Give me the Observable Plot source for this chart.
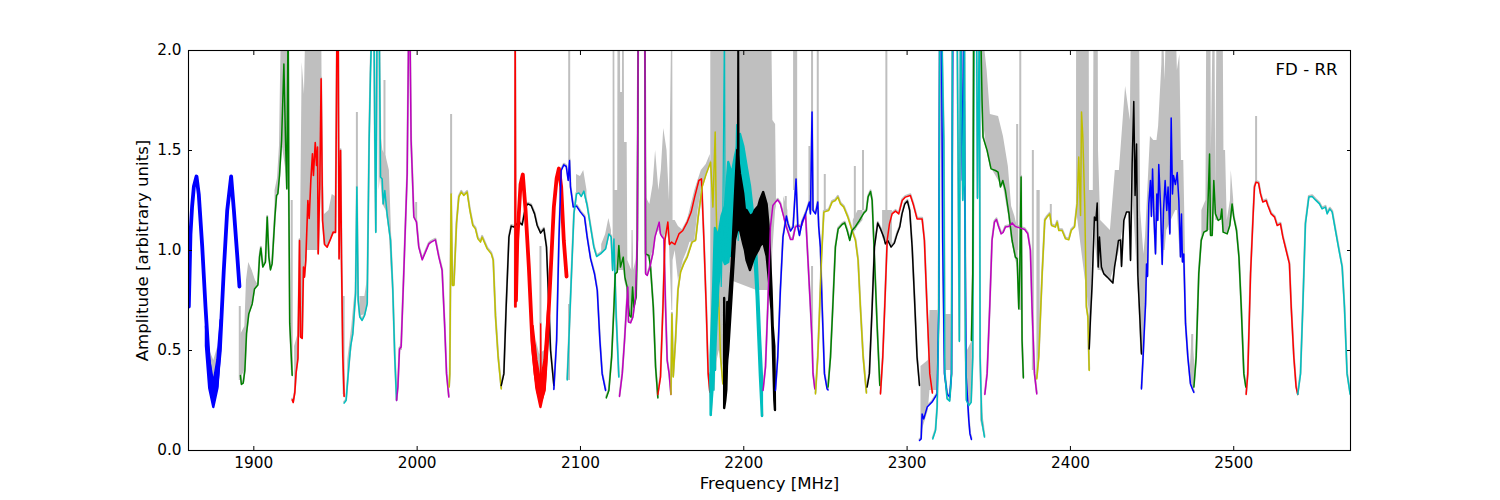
<!DOCTYPE html>
<html><head><meta charset="utf-8">
<script src="https://cdn.jsdelivr.net/npm/d3@7"></script>
<script src="https://cdn.jsdelivr.net/npm/@observablehq/plot@0.6"></script>
<style>html,body{margin:0;background:#fff}svg{display:block}</style>
</head><body><div id="chart"></div>
<script>
const xTicks=[1900,2000,2100,2200,2300,2400,2500];
const yTicks=[0,0.5,1,1.5,2];
const blue1=[[1860.2,.72],[1861.2,1.08],[1862.2,1.22],[1863.3,1.32],[1864.9,1.37],[1866.3,1.28],[1868.4,1.02],[1870.4,.72],[1872.4,.45],[1873.9,.33],[1875.5,.27],[1877.1,.32],[1879.2,.5],[1881.6,.9],[1883.7,1.2],[1886.1,1.37],[1887.8,1.2],[1889.8,.98],[1891.2,.82]];
const blue1Dip=[[1871,.52,.62],[1873,.31,.45],[1875.5,.215,.33],[1878,.31,.45],[1880,.55,.65]];
const green1=[[1891.8,.375],[1892.4,.33],[1893.5,.337],[1894.5,.4],[1895.5,.583],[1896.9,.683],[1899,.733],[1900.4,.808],[1902.5,.828],[1903.5,.967],[1904.3,1.013],[1905.5,.917],[1907.1,.942],[1908.2,1.167],[1909.2,.967],[1910.2,.903],[1911.2,.933],[1912.9,1.167],[1913.9,1.275],[1914.7,1.283],[1915.7,1.375],[1917,1.55],[1918.4,1.933],[1919.4,1.55],[1920.2,1.308],[1921,2.2],[1921.4,1.3],[1922,.633],[1923.5,.375]];
const red1=[[1923.5,.253],[1924.1,.24],[1925.1,.29],[1925.9,.39],[1927,.46],[1928,1.05],[1928.6,.567],[1929.6,.56],[1930.4,.917],[1931,.867],[1931.8,.95],[1933.1,1.25],[1933.9,1.16],[1934.9,1.35],[1935.9,1.483],[1936.5,1.375],[1937.6,1.54],[1938.4,1.425],[1939,1.517],[1939.4,.983],[1940.4,1.33],[1941.2,1.858],[1942.1,1.15],[1943.3,1.03],[1944.9,1.017],[1947,1.058],[1948.6,1.092],[1950,1.09],[1951,2.2],[1951.6,2.2],[1952.2,.958],[1953.1,1.5],[1953.7,.95],[1954.5,.467],[1955.3,.27]];
const cyan1=[[1955.3,.237],[1956.5,.25],[1957.8,.383],[1959.2,.517],[1960.6,.583],[1962.3,.783],[1963.1,1.317],[1963.9,.75],[1964.9,.667],[1966.3,.65],[1967.8,.675],[1969.4,.733],[1970.6,1.55],[1971.4,1.883],[1972.5,2.2],[1973.5,2.2],[1974.1,1.55],[1974.7,1.09],[1975.5,2.2],[1976.7,2.2],[1977.6,1.367],[1978.6,1.358],[1979.2,1.233],[1980.2,1.3],[1981.6,1.183],[1983.7,1.05],[1985.1,.8],[1986.3,.467],[1987.4,.25]];
const magenta1=[[1987.4,.25],[1988.2,.317],[1989.2,.508],[1990.2,.517],[1991.8,.883],[1993.9,1.383],[1994.9,2.2],[1995.5,2.2],[1996.3,1.55],[1998,1.167],[1999.6,1.142],[2001,1.017],[2003.1,.953],[2005.1,.992],[2007.2,1.033],[2008.6,1.042],[2011.2,1.053],[2013.3,.967],[2015.3,.9],[2016.8,.633],[2018,.383],[2019.4,.267]];
const yellow1=[[2019.6,.317],[2020,.383],[2020.8,1.283],[2021.6,.825],[2022.5,.825],[2024.1,1.133],[2025.5,1.267],[2027,1.292],[2028.6,1.275],[2030.6,1.292],[2032.3,1.2],[2034.1,1.125],[2035.7,1.108],[2037.2,1.058],[2038.8,1.042],[2039.8,1.067],[2042.9,1.008],[2045.4,.983],[2046.6,.95],[2048,.667],[2049.6,.467],[2051.5,.308]];
const black1=[[2051.5,.325],[2053.1,.383],[2054.5,.717],[2056.2,1.067],[2057.6,1.122],[2059.2,1.117],[2062.3,1.142],[2064.3,1.128],[2066.4,1.217],[2067.8,1.233],[2069.8,1.225],[2071.9,1.183],[2073.5,1.125],[2075.6,1.087],[2077.6,1.108],[2079.2,1.017],[2080.7,.717],[2081.7,.5],[2083.7,.325]];
const red2Spike=[[2059.8,.717],[2060,2.2],[2060.5,.717]];
const red2Notch=[[2075.6,.3],[2075.6,.633],[2075.9,.3]];
const red2=[[2060.5,.75],[2061.3,1.05],[2063.3,1.33],[2064.7,1.38],[2066.4,1.2],[2068.4,.917],[2070.5,.55],[2072.5,.383],[2074.5,.283],[2076,.26],[2077.6,.3],[2079.6,.55],[2081.7,.883],[2083.7,1.217],[2085.4,1.36],[2086.8,1.41],[2088.2,1.317],[2089.8,1.05],[2091.5,.87]];
const red2Dip=[[2071,.5,.62],[2073.3,.31,.45],[2075.8,.215,.33],[2078.3,.31,.45],[2080.5,.6,.7]];
const blue2=[[2083.7,.305],[2085.4,.55],[2086.8,1.05],[2088.2,1.4],[2089.8,1.428],[2091.3,1.42],[2092.5,1.35],[2093.3,1.45],[2093.9,1.317],[2095.6,1.217],[2097.6,1.222],[2100,1.192],[2102.5,1.167],[2104.1,1.067],[2106.2,.958],[2108.6,.883],[2110.3,.8],[2111.9,.55],[2113.3,.383],[2115.4,.3]];
const cyan2=[[2091.9,.353],[2092.9,.55],[2094.5,.883],[2096,1.183],[2097.6,1.283],[2099,1.288],[2100.5,1.27],[2102.1,1.297],[2104.1,1.225],[2106.2,1.117],[2108.2,1.017],[2109.9,.97],[2112.3,.983],[2115.4,1.008],[2117.4,1.083],[2118.8,1.067],[2119.7,.9],[2120.5,1.058],[2121.1,.883],[2121.9,.667],[2123.5,.367]];
const green2=[[2115.8,.263],[2117.4,.3],[2119.1,.467],[2120.5,.717],[2121.3,.883],[2122.5,.892],[2123.5,1.025],[2124.5,.917],[2126.2,.967],[2127.2,.867],[2128.6,.817],[2129.2,.733],[2130,.675],[2131,.667],[2131.9,.817],[2132.7,.717],[2134.1,.767],[2134.8,1.05],[2135.4,2.2],[2139.4,2.2],[2139.9,.983],[2141.9,.975],[2142.9,.917],[2144.6,.717],[2146,.417],[2147.4,.263]];
const magenta2=[[2123.9,.27],[2125.6,.383],[2127,.55],[2128.2,.717],[2129,.817],[2129.4,.642],[2130.7,.638],[2132.1,.667],[2133.7,.767],[2134.8,1.05],[2135.4,2.2],[2139.4,2.2],[2139.9,.883],[2140.9,.875],[2142.5,.917],[2144.3,.983],[2145.6,1.067],[2147,1.108],[2148.2,1.142],[2149,1.083],[2150.1,1.067],[2151.1,1.058],[2152.1,.717],[2153.1,.45],[2154.3,.383],[2155.4,.28]];
const red3=[[2147.4,.28],[2149,.367],[2150.5,.717],[2151.7,1.05],[2153.5,1.142],[2154.5,1.03],[2155.8,1.042],[2157.8,1.03],[2160.3,1.083],[2162.7,1.1],[2165.4,1.142],[2167.8,1.192],[2169.9,1.267],[2172.5,1.35],[2174.1,1.358],[2175.6,1.05],[2177,.717],[2178.2,.383],[2179.2,.292]];
const yellow2=[[2155.4,.28],[2156,.683],[2156.8,.367],[2158.2,.55],[2159.7,.8],[2161.3,.892],[2163.3,.933],[2165.4,.967],[2168.4,1.042],[2170.5,1.05],[2172.1,1.167],[2174.5,1.317],[2177,1.383],[2179.7,1.442],[2181.1,1.217],[2182.5,1.592],[2183.1,1.217],[2184.1,.883],[2185.8,.467],[2187.2,.333]];
const cyan3=[[2179.2,.38],[2180,.175],[2181.1,.467],[2181.7,.3],[2182.3,.55],[2182.7,.4],[2183.1,1.05],[2184.1,.72],[2185.4,1.13],[2186.2,.82],[2187.2,1.17],[2188.2,2.2],[2188.6,.93],[2189.9,1.22],[2190.6,.95],[2191.5,1.3],[2191.9,.97],[2192.3,1.38],[2193.1,.98],[2194,1.35],[2194.5,1.03],[2195,1.4],[2195.6,1.63],[2196.6,1.05],[2197.4,1.45],[2198,1.52],[2198.5,1.1],[2199,1.5],[2199.5,1.2],[2200,1.51],[2200.5,1.15],[2201.1,1.45],[2201.8,1.15],[2202.5,1.38],[2203,1.1],[2203.5,1.3],[2204.1,1.1],[2205,1.2],[2206.2,1.05],[2206.8,1.15],[2207.2,.92],[2208.6,.72],[2210.3,.38],[2211.5,.17]];
const cyanBand=[[2180,.175,.47],[2181.6,.35,.82],[2182.6,.47,1.11],[2184.7,.82,1.07],[2186.7,.97,1.17],[2188.8,.93,1.22],[2190.8,.94,1.44],[2192.9,1.1,1.38],[2194.9,1.2,1.47],[2198,1.3,1.58],[2200,1.2,1.52],[2202,1.2,1.42],[2204.1,1.15,1.32],[2207.1,.93,1.1],[2208.2,.77,.95],[2209.2,.57,.77],[2210.2,.37,.57],[2211.4,.17,.37]];
const blackBand=[[2188.3,.21,.76],[2189,.25,.42],[2189.6,.3,.5],[2190,.42,.6],[2190.2,.45,.74],[2190.8,.5,.68],[2192.9,.78,.93],[2194.9,1.05,1.27],[2196.3,1.1,1.5],[2198,1.1,1.38],[2200,1.03,1.28],[2201,1,1.2],[2202,.95,1.2],[2204.1,.9,1.17],[2206.1,.95,1.18],[2207.1,.97,1.2],[2209.2,1,1.22],[2210.2,1.02,1.25],[2212.2,1.04,1.29],[2214.3,.97,1.23],[2215.7,.85,1.1],[2217.3,.7,.8],[2218,.55,.62],[2219,.25,.52],[2219.4,.2,.21]];
const black2Spike=[[2196.2,1.2],[2196.6,2.2],[2197,1.2]];
const magenta3=[[2211.8,.3],[2213.3,.417],[2214.7,.717],[2216.3,1.117],[2217.8,1.225],[2219.4,1.242],[2220.8,1.253],[2222.4,1.233],[2224,1.183],[2226.1,1.117],[2228.6,1.055],[2230,1.055],[2231.6,1.117],[2233.1,1.125],[2235.1,1.117],[2237.8,1.183],[2239.2,.967],[2240.8,.717],[2241.8,.55],[2242.4,.383],[2243.5,.308]];
const blue3=[[2219.4,.3],[2220.8,.467],[2222.4,.8],[2224,1.067],[2226.1,1.172],[2227.1,1.133],[2228.6,1.097],[2230.2,1.117],[2232,1.358],[2233.1,1.117],[2234.1,1.075],[2235.7,1.142],[2237.8,1.183],[2240.2,1.242],[2240.8,1.183],[2241.8,1.692],[2242.4,1.2],[2243.9,1.183],[2245.3,1.242],[2245.9,1.117],[2246.9,1.017],[2248,.717],[2249.4,.383],[2251,.308],[2251.6,.303]];
const yellow3=[[2243.9,.283],[2245.3,.467],[2246.5,.717],[2247.6,.967],[2249,1.192],[2252,1.2],[2254.1,1.242],[2256.1,1.25],[2257.6,1.267],[2259.2,1.233],[2261.2,1.217],[2263.7,1.167],[2266.3,1.1],[2268.4,1.05],[2270,.95],[2271.4,.717],[2273.1,.467],[2275.1,.287]];
const green3=[[2251.6,.317],[2253.1,.467],[2254.5,.717],[2256.1,1.017],[2257.8,1.108],[2260.2,1.13],[2261.8,1.138],[2263.3,1.1],[2264.9,1.05],[2266.3,1.1],[2268.4,1.12],[2270.8,1.15],[2273.5,1.187],[2275.1,1.2],[2276.1,1.267],[2277.6,1.295],[2278.6,1.25],[2280,.967],[2281.6,.633],[2283.3,.325]];
const black3=[[2275.5,.317],[2276.9,.383],[2278.6,.717],[2280,1.017],[2282,1.137],[2283.7,1.108],[2285.7,1.067],[2286.7,1.033],[2288.2,1.05],[2290.2,1.017],[2292.2,1.037],[2293.9,1.083],[2295.5,1.117],[2296.9,1.183],[2298.6,1.233],[2300.2,1.247],[2301.6,1.2],[2303.1,1.017],[2304.5,.767],[2306.1,.467],[2307.6,.325]];
const red4=[[2283.7,.283],[2285.1,.467],[2286.3,.717],[2287.8,1.05],[2289.2,1.133],[2290.8,1.183],[2292.9,1.197],[2294.9,1.183],[2297,1.25],[2299,1.267],[2302,1.275],[2303.7,1.233],[2306.1,1.158],[2309.2,1.158],[2310.6,1.05],[2312.2,.717],[2313.9,.383],[2315.5,.287]];
const blue4=[[2307.6,.05],[2308.6,.058],[2309.2,.183],[2310.2,.158],[2312.3,.217],[2315.3,.242],[2318.4,.283],[2319.4,.717],[2320,2.2],[2321,2.2],[2321.8,1.05],[2322.9,.383],[2324.5,.283],[2326.1,.267],[2327.2,.383],[2328,2.2],[2328.6,2.2],[2331,2.2],[2332.7,2.2],[2333.9,1.35],[2334.7,2.2],[2335.3,1.35],[2336.1,.383],[2337.8,.15],[2338.5,.083],[2339.4,.055]];
const cyan4=[[2315.7,.058],[2317.4,.1],[2318.4,.217],[2319.4,.717],[2320,2.2],[2321,2.2],[2322.5,1.55],[2323.1,.383],[2324.5,.258],[2326.1,.247],[2327.2,.383],[2327.8,2.2],[2328.4,2.2],[2330.6,2.2],[2332,.545],[2332.7,2.2],[2334.1,1.25],[2334.5,1.33],[2335.1,2.2],[2335.7,.55],[2336.3,.25],[2337.8,.225],[2339.2,.24],[2340.2,.467],[2341,2.2],[2342.5,2.2],[2343.1,1.26],[2343.7,1.725],[2344.3,2.2],[2344.7,.467],[2345.7,.15],[2347.4,.067]];
const green4=[[2339.4,.55],[2340.2,.883],[2340.8,2.2],[2344.9,2.2],[2345.9,1.75],[2346.5,1.567],[2349,1.5],[2351.4,1.408],[2354.1,1.4],[2355.7,1.392],[2357.2,1.317],[2358.6,1.35],[2360.2,1.3],[2362.3,1.183],[2364.3,1.05],[2366.3,.967],[2367.4,.958],[2368.4,.708],[2369,.9],[2369.8,1.367],[2370.4,.55],[2371.2,.363]];
const magenta4=[[2347.6,.28],[2349,.383],[2350.6,.717],[2352,1.05],[2353.5,1.142],[2354.7,1.155],[2356.1,1.117],[2357.6,1.083],[2358.8,1.09],[2360.2,1.117],[2362.3,1.12],[2364.3,1.138],[2366.3,1.12],[2369.4,1.112],[2372,1.105],[2373.9,1.083],[2375.5,1],[2376.5,.717],[2378,.383],[2379.4,.283]];
const yellow4=[[2379.4,.358],[2380.6,.467],[2382.7,.883],[2384.3,1.15],[2385.7,1.167],[2387.4,1.183],[2388.4,1.125],[2390.8,1.117],[2391.9,1.142],[2392.9,1.1],[2394.9,1.1],[2397,1.058],[2399,1.053],[2400.5,1.1],[2402.5,1.117],[2404.1,1.233],[2405.1,1.467],[2406.2,1.175],[2406.8,1.692],[2407.6,1.567],[2408.8,1.217],[2409.8,.717],[2410.7,.667],[2411.5,.4]];
const black4=[[2411.5,.508],[2412.3,.667],[2413.3,.833],[2414.7,1.167],[2415.6,1.15],[2416.4,1.237],[2417,.917],[2417.8,1.067],[2419,.917],[2420.5,.883],[2422.5,.867],[2424.5,.85],[2426,.837],[2427,.917],[2428,.967],[2429.4,1.05],[2430.7,1.053],[2431.3,.92],[2432.7,1.15],[2434.3,1.192],[2436,1.192],[2436.8,.95],[2437.8,1.433],[2438.8,1.745],[2439.6,1.275],[2440.5,1.533],[2441.3,.875],[2442.5,.667],[2443.5,.483]];
const blue5=[[2443.5,.308],[2444.5,.467],[2445.4,.63],[2446,.733],[2446.6,.933],[2447.2,.87],[2448,1.233],[2449,1.35],[2449.6,1.17],[2450.3,1.408],[2451.1,1.18],[2452.1,.983],[2452.9,1.283],[2453.5,1.15],[2454.1,1.43],[2455.2,1.22],[2456.2,.93],[2457,1.2],[2458,1.35],[2459,1.2],[2459.8,1.317],[2460.9,1.083],[2461.7,1.663],[2462.5,1.283],[2463.1,1.375],[2464.3,1.33],[2465.4,1.39],[2466.4,1.25],[2467.4,.967],[2468,1.183],[2468.6,.942],[2469.4,.983],[2470.5,.633],[2471.9,.467],[2473.5,.333],[2474.7,.308],[2475.6,.29]];
const green5=[[2475.6,.317],[2477,.467],[2478.6,.883],[2480.1,1.05],[2481.7,1.092],[2483.7,1.1],[2485.2,1.483],[2485.8,1.075],[2486.8,1.075],[2487.8,1.35],[2488.8,1.183],[2490.5,1.15],[2491.9,1.158],[2492.7,1.208],[2493.5,1.092],[2496,1.083],[2497.6,1.125],[2499,1.233],[2500,1.167],[2501.7,1.1],[2503.2,.967],[2504.6,.717],[2506.2,.383],[2507.4,.317]];
const red5=[[2507.6,.28],[2508.6,.383],[2510.3,.883],[2511.9,1.18],[2512.7,1.317],[2513.7,1.342],[2515.2,1.337],[2516.4,1.283],[2517.8,1.242],[2519.9,1.25],[2520.9,1.225],[2522.9,1.183],[2525,1.167],[2526.6,1.125],[2528.6,1.133],[2530.1,1.067],[2532.1,1],[2534.1,.933],[2535.2,.717],[2536.8,.467],[2538.2,.317],[2539.2,.28]];
const cyan5=[[2539.2,.28],[2540.9,.383],[2542.3,.717],[2543.9,1.133],[2546,1.267],[2548,1.27],[2550,1.253],[2552.5,1.233],[2554.1,1.208],[2556.2,1.217],[2557.2,1.183],[2558.8,1.208],[2560.3,1.192],[2562.3,1.1],[2564.3,1.008],[2566.4,.917],[2567.8,.717],[2569.4,.383],[2571.3,.28]];

const greyBands=[
[[1873,.35,.5],[1875.5,.3,.45],[1878,.35,.52]],
[[1892,.36,.58],[1894.5,.4,.62],[1895.5,.58,.85],[1896.9,.68,.94],[1899,.73,.9],[1901,.81,.85],[1902.5,.83,.83]],
[[1913,1.17,1.3],[1914.5,1.28,1.36],[1915.7,1.37,1.52],[1917,1.55,2.2],[1921.4,1.3,2.2]],
[[1925,.28,.52],[1927,.48,.58],[1928.5,.6,1],[1929.6,.6,1.94],[1931,.9,1.78],[1932,1,2.2],[1939,1,2.2],[1940,1.3,2.2],[1941.5,1.3,2.2],[1942.1,1.15,1.45],[1943.3,1.03,1.18],[1946,1.03,1.2],[1948,1.07,1.28],[1950,1.09,1.27]],
[[1957.5,.38,.45],[1960,.5,.62],[1962,.75,.8]],
[[1965,.67,.77],[1968,.68,.77],[1969.4,.73,.85]],
[[1976.7,1.3,2.2],[1977.6,1.37,1.6],[1979,1.23,1.5],[1981,1.2,1.47],[1983,1.08,1.4],[1984.5,.85,1.05]],
[[2073,.4,.55],[2075,.27,.48],[2078,.3,.5]],
[[2097.6,1.28,1.38],[2100,1.28,1.37],[2102,1.29,1.4],[2104,1.22,1.3]],
[[2113,.99,1.03],[2115.4,1.01,1.08],[2117.4,1.08,1.16],[2119,1.07,1.1]],
[[2120,.9,2.2],[2121,.9,2.2],[2121.2,.9,1.3],[2122.8,.9,1.3],[2123,.9,2.2],[2124.5,.9,2.2],[2124.6,.9,1.79],[2125.7,.9,1.79],[2125.8,.9,2.2],[2126.8,.9,2.2],[2127,.85,1.54],[2128.6,.8,1.54],[2129,.75,.95],[2131.4,.67,.9],[2131.6,.67,1.1],[2132.2,.67,1.1],[2132.6,.7,.9],[2134,.8,.95]],
[[2140,.98,1.27],[2142.5,.95,1.23],[2144.5,1,1.33],[2146,1.07,1.5],[2148,1.1,1.3],[2149.5,1.07,1.4],[2151,1.06,1.61],[2153,1.1,1.5],[2154.5,1.03,1.25],[2156,.7,2.2],[2156.5,.7,2.2],[2156.7,.95,1.15],[2158,1,1.15],[2160,.85,1.12],[2163,.95,1.1],[2165.5,1,1.15],[2167,1.04,1.2],[2170,1.05,1.3],[2172,1.2,1.35],[2174,1.3,1.4],[2177,1.38,1.43],[2179.5,1.44,1.48]],
[[2179.8,.3,2.2],[2185,.5,2.2],[2188,.4,2.2],[2192,.85,2.2],[2208,.8,2.2],[2213,.8,2.2],[2216,.8,2.2],[2217,.8,2.2],[2217.8,1,1.65],[2219.5,1.2,1.63],[2220,1.22,1.3]],
[[2230.5,1.3,2.2],[2233,1.3,2.2]],
[[2224.5,1.15,1.27],[2227,1.1,1.2]],
[[2267,1.08,1.15],[2270,1.12,1.2],[2273,1.15,1.2]],
[[2285,1.06,1.2],[2291,1.03,1.2]],
[[2308.5,.08,.42],[2313,.2,.45],[2314,.3,.7],[2319,.3,.7]],
[[2323,.4,.68],[2328,.4,.68]],
[[2337,.2,.5],[2340,.25,.55]],
[[2345,.15,.25],[2347.5,.07,.12]],
[[2345,1.75,2.2],[2349,1.5,1.9],[2351,1.42,1.68],[2356,1.35,1.67],[2359,1.32,1.57],[2362,1.18,1.42],[2364,1.05,1.22],[2366,.97,1.17],[2368,.9,1.1]],
[[2379.5,.36,1.3],[2381.5,.6,1.3]],
[[2403.7,1.2,1.3],[2403.8,1.2,2.2],[2411.5,.7,2.2],[2411.7,.5,1.3],[2414,1.1,1.3],[2414.5,1.1,2.2],[2417,.9,2.2],[2417.2,.9,1.5],[2418.5,.9,1.15],[2424.5,.85,1.1],[2427.5,.93,1.4],[2430,1,1.4],[2433.8,1.19,1.82],[2436.7,1.2,1.65],[2437.4,1.4,2.2],[2442.3,.7,2.2],[2443,.5,1.2],[2445,.45,.98],[2446,.7,1.07],[2449,1.3,1.57],[2451,1.2,1.55],[2453,1.2,1.55],[2454,1.4,1.62],[2456,1,1.93],[2456.6,1,2.2],[2458,1,1.85],[2459,1.1,2.2],[2464.5,1.2,2.2],[2465.5,1.2,1.9],[2467,1,1.98],[2468,1.1,1.45],[2469.4,.98,1.45],[2470.5,.63,.98]],
[[2473.5,.33,.42],[2474.5,.31,.58],[2476,.3,.45]],
[[2480.5,1.05,1.2],[2483,1.1,1.25],[2483.5,1.1,2.2],[2486,1.1,2.2],[2486.3,1.1,1.5],[2487.5,1.2,2.2],[2488.5,1.2,2.2],[2489,1.15,1.3],[2489.8,1.15,2.2],[2493.5,1.15,2.2],[2494,1.1,1.5],[2495,1.09,1.5],[2496,1.08,1.15],[2498,1.13,1.25],[2498.5,1.15,1.4],[2499.5,1.2,1.3],[2500,1.17,1.25]]
];
const greySpikes=[[1891.4,.35,.72],[1923.2,.4,1.25],[1963.1,1.3,1.69],[1955,.28,.77],[1980,1.3,1.85],[1990,.5,.53],[1999.4,1.15,1.24],[2020.8,1.28,1.68],[2075.5,.63,1.02],[2093.1,1.45,2.2],[2093,.35,.73],[2216.6,1,1.7],[2225.7,1.15,1.27],[2240.2,1.2,1.52],[2241.8,1.2,2.2],[2241.8,.55,.92],[2245.3,1.2,2.2],[2249.6,1.2,1.38],[2268,1.1,1.42],[2273,1.2,1.5],[2287.3,1.1,2.2],[2367.4,1,1.63],[2369.3,.7,2.2],[2377,.4,1.5],[2388,1.15,1.23],[2513.7,1.34,1.67],[2474.6,.31,.58]];

const colors={b:"#0000ff",g:"#008000",r:"#ff0000",c:"#00bfbf",m:"#bf00bf",y:"#bfbf00",k:"#000000"};
const series=[[blue1,"b",3.8],[green1,"g",1.5],[red1,"r",1.6],[cyan1,"c",1.5],[magenta1,"m",1.5],[yellow1,"y",1.5],[black1,"k",1.5],[red2,"r",3.8],[red2Spike,"r",1.5],[red2Notch,"r",1.5],[blue2,"b",1.5],[cyan2,"c",1.5],[green2,"g",1.5],[magenta2,"m",1.5],[red3,"r",1.5],[yellow2,"y",1.5],[cyan3,"c",1.2],[black2Spike,"k",1.8],[magenta3,"m",1.5],[blue3,"b",1.5],[yellow3,"y",1.5],[green3,"g",1.5],[black3,"k",1.5],[red4,"r",1.5],[blue4,"b",1.5],[cyan4,"c",1.5],[green4,"g",1.5],[magenta4,"m",1.5],[yellow4,"y",1.5],[black4,"k",1.5],[blue5,"b",1.5],[green5,"g",1.5],[red5,"r",1.5],[cyan5,"c",1.5]];

const font="DejaVu Sans";
const fx=d=>d[0], fy=d=>d[1];
const grey="#bfbfbf";
const band=(rows,fill)=>Plot.areaY(rows,{x:d=>d[0],y1:d=>d[1],y2:d=>d[2],fill,clip:true});
const heavy=(rows,fill)=>Plot.areaY(rows,{x:d=>d[0],y1:d=>d[1],y2:d=>d[2],fill,stroke:fill,strokeWidth:2.4,strokeLinejoin:"round",clip:true});
const marks=[];
greyBands.forEach(b=>marks.push(band(b,grey)));
marks.push(Plot.ruleX(greySpikes,{x:d=>d[0],y1:d=>d[1],y2:d=>d[2],stroke:grey,strokeWidth:2,clip:true}));
series.forEach(([pts,c,w])=>{ if(w<2) marks.push(Plot.line(pts,{x:fx,y:fy,stroke:grey,strokeWidth:2,dy:-1.2,clip:true})); });
series.forEach(([pts,c,w])=>{
  if(pts===blue1) marks.push(heavy(blue1Dip,colors.b));
  if(pts===red2) marks.push(heavy(red2Dip,colors.r));
  if(pts===cyan3) marks.push(heavy(cyanBand,colors.c));
  marks.push(Plot.line(pts,{x:fx,y:fy,stroke:colors[c],strokeWidth:w,clip:true}));
  if(pts===cyan3) marks.push(heavy(blackBand,colors.k));
});
const noLabel=()=>"";
marks.push(
  Plot.frame({stroke:"#000",strokeWidth:1.1}),
  Plot.axisX(xTicks,{anchor:"bottom",tickSize:-4,tickPadding:11,tickFormat:d=>String(d),fontSize:15.3,label:null}),
  Plot.axisX(xTicks,{anchor:"top",tickSize:-4,tickFormat:noLabel,label:null}),
  Plot.axisY(yTicks,{anchor:"left",tickSize:-4,tickPadding:11,tickFormat:d=>d.toFixed(1),fontSize:15.3,label:null}),
  Plot.axisY(yTicks,{anchor:"right",tickSize:-4,tickFormat:noLabel,label:null}),
  Plot.text(["Frequency [MHz]"],{frameAnchor:"bottom",dy:38,fontSize:16.6,fill:"#000"}),
  Plot.text(["Amplitude [arbitrary units]"],{frameAnchor:"left",dx:-46,rotate:-90,textAnchor:"middle",fontSize:16.6,fill:"#000"}),
  Plot.text(["FD - RR"],{frameAnchor:"top-right",dx:-13,dy:13,fontSize:16.6,fill:"#000",textAnchor:"end"})
);
const chart=Plot.plot({width:1500,height:500,marginLeft:188,marginRight:150,marginTop:50,marginBottom:50,
  style:{fontFamily:font,background:"#fff",overflow:"visible"},
  x:{domain:[1860,2571.5],axis:null},y:{domain:[0,2],axis:null},marks});
document.getElementById("chart").appendChild(chart);
</script></body></html>
